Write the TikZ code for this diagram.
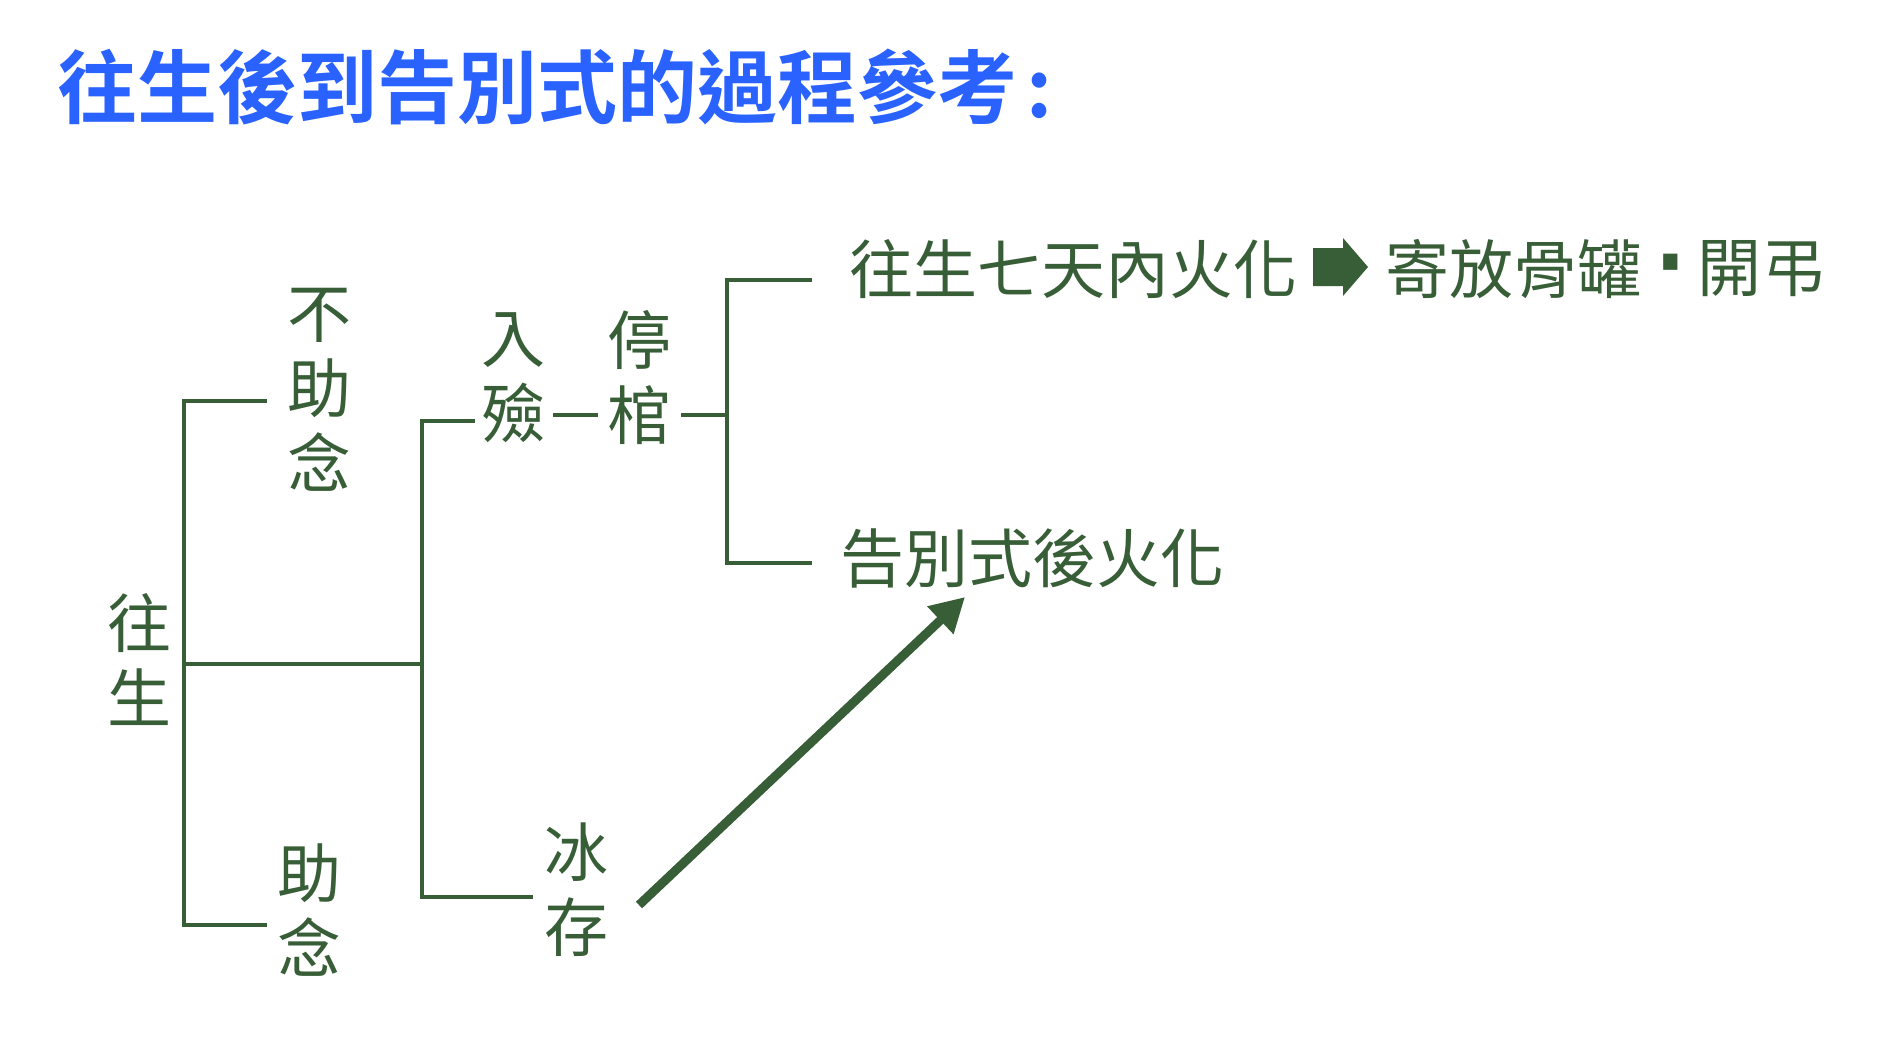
\documentclass[tikz,border=0pt]{standalone}
\usepackage{fontspec}
\newfontfamily\cjk{Noto Sans CJK TC}
\newfontfamily\cjkb{Noto Sans CJK TC Bold}
\newfontfamily\dashfont{Liberation Sans Bold}
\usetikzlibrary{arrows.meta}
\definecolor{leaf}{RGB}{56,94,56}
\definecolor{titleblue}{RGB}{41,98,255}
\begin{document}
\begin{tikzpicture}[x=1pt,y=-1pt,
  lbl/.style={inner sep=0pt, text=leaf, font=\cjk\fontsize{64}{75}\selectfont},
  vlbl/.style={lbl, align=center},
  hlbl/.style={lbl, anchor=west},
  wire/.style={draw=leaf, line width=4pt, line cap=butt},
  bigarrow/.style={draw=leaf, line width=9pt, -{Triangle[length=34pt,width=36pt]}}]
\useasboundingbox[fill=white] (0,0) rectangle (1901,1050);
% title
\node[anchor=west, inner sep=0pt, text=titleblue, font=\cjkb\fontsize{80}{90}\selectfont] (title) at (57,87) {往生後到告別式的過程參考\hspace{9pt}:};
% vertical labels
\node[vlbl] (wangsheng) at (139,660) {往\\生};
\node[vlbl] (buzhunian) at (319,390) {不\\助\\念};
\node[vlbl] (zhunian) at (309,910) {助\\念};
\node[vlbl] (rulian) at (513,378) {入\\殮};
\node[vlbl] (tingguan) at (639,378) {停\\棺};
\node[vlbl] (bingcun) at (576,890) {冰\\存};
% horizontal labels
\node[hlbl] (seven) at (849,269) {往生七天內火化};
\node[hlbl] (jifang) at (1385,269) {寄放骨罐};
\node[lbl] (dash) at (1671,276) {\scalebox{1.4}[3.4]{\dashfont\fontsize{40}{40}\selectfont -}};
\node[hlbl] (kaidiao) at (1697,269) {開弔};
\node[hlbl] (after) at (840,558) {告別式後火化};
% block arrow between texts
\coordinate (ba) at (1313,267);
\fill[leaf] (ba) ++(0,-19) -- ++(30,0) -- ++(0,-10) -- ++(25,29) -- ++(-25,29) -- ++(0,-10) -- ++(-30,0) -- cycle;
% bracket 1
\coordinate (b1t) at (184,401);
\coordinate (b1b) at (184,925);
\coordinate (b1m) at (184,664);
\coordinate (b1te) at (267,401);
\coordinate (b1be) at (267,925);
\coordinate (b2m) at (422,664);
\draw[wire] (b1te) -- (b1t) -- (b1b) -- (b1be);
\draw[wire] (b1m) -- (b2m);
% bracket 2
\coordinate (b2t) at (422,421);
\coordinate (b2b) at (422,897);
\coordinate (b2te) at (475,421);
\coordinate (b2be) at (533,897);
\draw[wire] (b2te) -- (b2t) -- (b2b) -- (b2be);
% link 入殮 - 停棺 - bracket 3
\coordinate (l1a) at (553,415);
\coordinate (l1b) at (598,415);
\coordinate (l2a) at (681,415);
\coordinate (b3m) at (727,415);
\draw[wire] (l1a) -- (l1b);
\draw[wire] (l2a) -- (b3m);
% bracket 3
\coordinate (b3t) at (727,280);
\coordinate (b3b) at (727,563);
\coordinate (b3te) at (812,280);
\coordinate (b3be) at (812,563);
\draw[wire] (b3te) -- (b3t) -- (b3b) -- (b3be);
% big arrow
\coordinate (as) at (639,905);
\coordinate (ae) at (965,597);
\draw[bigarrow] (as) -- (ae);
\end{tikzpicture}
\end{document}
